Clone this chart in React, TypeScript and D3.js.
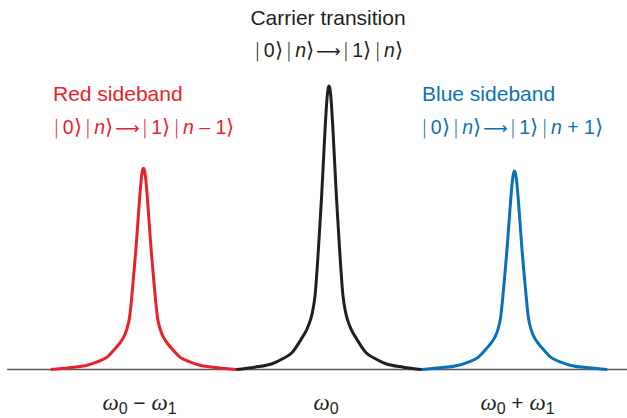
import React from 'react'
import * as d3 from 'd3'

// detuning around each transition (units of the trap frequency omega_1)
const detuning = [-0.5, -0.4, -0.3, -0.25, -0.2, -0.15, -0.12, -0.1, -0.09, -0.075, -0.06, -0.05,
  -0.04, -0.03, -0.02, -0.01, -0.005, 0, 0.005, 0.01, 0.02, 0.03, 0.04, 0.05, 0.06, 0.075, 0.09,
  0.1, 0.12, 0.15, 0.2, 0.25, 0.3, 0.4, 0.5]

// peak centres: omega_0 - omega_1, omega_0, omega_0 + omega_1
const peakCenters = [-1, 0, 1]
const peakNames = ['red', 'carrier', 'blue']

// relative excitation
const redValues = [0, 0.006, 0.016, 0.027, 0.042, 0.076, 0.1, 0.124, 0.142, 0.185, 0.28, 0.355,
  0.433, 0.522, 0.612, 0.683, 0.703, 0.71, 0.703, 0.683, 0.612, 0.522, 0.433, 0.355, 0.28, 0.185,
  0.142, 0.124, 0.1, 0.076, 0.042, 0.027, 0.016, 0.006, 0]
const carrierValues = [0, 0.008, 0.022, 0.038, 0.059, 0.107, 0.141, 0.175, 0.2, 0.262, 0.395, 0.5,
  0.61, 0.735, 0.862, 0.962, 0.99, 1, 0.99, 0.962, 0.862, 0.735, 0.61, 0.5, 0.395, 0.262,
  0.2, 0.175, 0.141, 0.107, 0.059, 0.038, 0.022, 0.008, 0]
const blueValues = [0, 0.006, 0.015, 0.026, 0.041, 0.075, 0.099, 0.122, 0.14, 0.183, 0.277, 0.35,
  0.427, 0.515, 0.603, 0.673, 0.693, 0.7, 0.693, 0.673, 0.603, 0.515, 0.427, 0.35, 0.277, 0.183,
  0.14, 0.122, 0.099, 0.075, 0.041, 0.026, 0.015, 0.006, 0]

const axisExtent = [-1.735, 1.62]

const colors = { red: '#e8212b', carrier: '#231f20', blue: '#0a71b9' }

const W = 627
const H = 418

const sans = '"Liberation Sans", Arial, Helvetica, sans-serif'
const serif = '"Liberation Serif", "Times New Roman", serif'
const math = '"DejaVu Sans", sans-serif'

const Bar = ({ dx }: { dx?: number }) => (
  <tspan dx={dx} fontFamily={math} fontWeight={200} fontSize={20}>|</tspan>
)
const Close = () => <tspan fontFamily={math} fontWeight={200} fontSize={21}>⟩</tspan>

const Ket = ({ x, y, fill, last }: { x: number; y: number; fill: string; last: string }) => (
  <text x={x} y={y} fill={fill} fontFamily={sans} fontSize={19.5}>
    <Bar /><tspan dx={3}>0</tspan><Close />
    <Bar dx={3} /><tspan dx={3} fontStyle="italic">n</tspan><Close />
    <tspan dx={2} fontFamily={math} fontSize={17}>⟶</tspan>
    <Bar dx={2} /><tspan dx={3}>1</tspan><Close />
    <Bar dx={3} /><tspan dx={3} fontStyle="italic">n</tspan>
    {last && <tspan>{last}</tspan>}<Close />
  </text>
)

export default function App() {
  const x = d3.scaleLinear().domain([-1, 1]).range([143.5, 514.5])
  const y = d3.scaleLinear().domain([0, 1]).range([369.5, 86])

  const series = [redValues, carrierValues, blueValues]
  const line = d3.line<[number, number]>()
    .x(d => x(d[0]))
    .y(d => y(d[1]))
    .curve(d3.curveMonotoneX)

  return (
    <div style={{ position: 'absolute', left: 0, top: 0 }}>
      <svg width={W} height={H} style={{ display: 'block' }}>
        <rect width={W} height={H} fill="#fff" />
        <line x1={x(axisExtent[0])} x2={x(axisExtent[1])} y1={y(0)} y2={y(0)}
          stroke="#58595b" strokeWidth={1.6} />
        {series.map((vals, i) => {
          const pts = detuning.map((d, j) => [peakCenters[i] + d, vals[j]] as [number, number])
          return (
            <path key={peakNames[i]} d={line(pts) || ''} fill="none"
              stroke={colors[peakNames[i] as keyof typeof colors]} strokeWidth={3}
              strokeLinejoin="round" />
          )
        })}

        {/* labels */}
        <text x={x(0) - 1} y={25} textAnchor="middle" fill={colors.carrier} fontFamily={sans} fontSize={21}>
          Carrier transition
        </text>
        <Ket x={254} y={57} fill={colors.carrier} last="" />

        <text x={53} y={101} fill={colors.red} fontFamily={sans} fontSize={21}>Red sideband</text>
        <Ket x={53} y={134} fill={colors.red} last=" – 1" />

        <text x={422} y={101} fill={colors.blue} fontFamily={sans} fontSize={21}>Blue sideband</text>
        <Ket x={421} y={134} fill={colors.blue} last=" + 1" />

        {/* frequency axis labels */}
        {peakCenters.map((c, i) => (
          <text key={c} x={x(c) + [-4, -3, 3][i]} y={410} textAnchor="middle" fill={colors.carrier}
            fontFamily={sans} fontSize={21}>
            <tspan fontFamily={serif} fontStyle="italic" fontSize={23}>ω</tspan>
            <tspan dy={4} fontSize={16}>0</tspan>
            {c !== 0 && (
              <>
                <tspan dy={-4}>{c < 0 ? ' − ' : ' + '}</tspan>
                <tspan fontFamily={serif} fontStyle="italic" fontSize={23}>ω</tspan>
                <tspan dy={4} fontSize={16}>1</tspan>
              </>
            )}
          </text>
        ))}
      </svg>
    </div>
  )
}
